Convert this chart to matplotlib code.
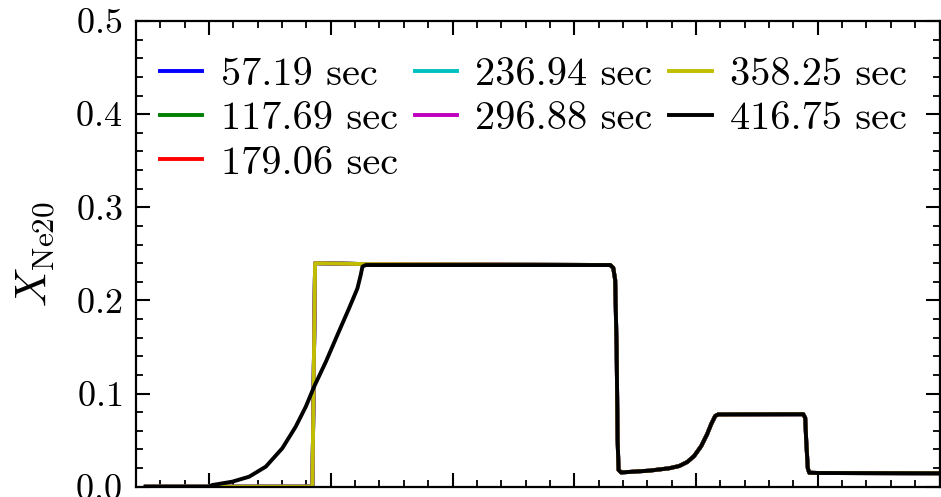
import numpy as np
import matplotlib
matplotlib.use("Agg")
import matplotlib.pyplot as plt
from matplotlib.ticker import MultipleLocator

plt.rcParams['font.family'] = 'cmr10'
plt.rcParams['mathtext.fontset'] = 'cm'
plt.rcParams['axes.formatter.use_mathtext'] = True

# tiempos de cada perfil
labels = ['57.19 sec', '117.69 sec', '179.06 sec', '236.94 sec',
          '296.88 sec', '358.25 sec', '416.75 sec']
colors = ['b', 'g', 'r', 'c', 'm', 'y', 'k']

# parte derecha comun a todos los perfiles
x_right = [4.295, 4.320, 4.336, 4.348, 4.356, 4.364, 4.385, 4.615, 4.78,
           4.862, 4.928, 4.985, 5.043, 5.092, 5.125, 5.158, 5.183, 5.881,
           5.897, 5.905, 5.918, 5.930, 6.012, 7.0]
y_right = [0.238, 0.235, 0.222, 0.147, 0.050, 0.018, 0.0153, 0.0172, 0.0198,
           0.0222, 0.0265, 0.033, 0.0437, 0.0566, 0.0673, 0.076, 0.0776,
           0.0778, 0.0738, 0.050, 0.020, 0.015, 0.0147, 0.0144]

# perfil escalonado (los primeros seis tiempos casi coinciden)
x_step = [0.48, 1.849, 1.871, 2.288] + x_right
y_step = [0.0, 0.0, 0.240, 0.239] + y_right

# ultimo perfil (rampa suave a la izquierda)
x_last = [0.48, 1.0, 1.027, 1.191, 1.329, 1.466, 1.602, 1.712, 1.795, 1.863,
          1.959, 2.068, 2.150, 2.219, 2.246, 2.260, 2.288] + x_right
y_last = [0.0, 0.0, 0.0018, 0.0054, 0.0107, 0.0215, 0.0413, 0.0645, 0.0860,
          0.1074, 0.134, 0.167, 0.1915, 0.213, 0.2274, 0.2363, 0.238] + y_right

fig = plt.figure(figsize=(9.41, 4.97), dpi=100)
ax = fig.add_axes([136/941, 10.3/497, (939.5-136)/941, (486.7-21)/497])

for i in range(len(labels)):
    if i < len(labels) - 1:
        ax.plot(x_step, y_step, color=colors[i], lw=2.8, label=labels[i])
    else:
        ax.plot(x_last, y_last, color=colors[i], lw=2.8, label=labels[i])

ax.set_xlim(0.4, 7.0)
ax.set_ylim(0.0, 0.5)
ax.xaxis.set_major_locator(MultipleLocator(1.0))
ax.xaxis.set_minor_locator(MultipleLocator(0.2))
ax.yaxis.set_major_locator(MultipleLocator(0.1))
ax.yaxis.set_minor_locator(MultipleLocator(0.02))
ax.tick_params(which='both', direction='in', top=True, right=True,
               labelbottom=False, labelsize=26)
ax.tick_params(which='major', length=10, width=1.5, pad=10)
ax.tick_params(which='minor', length=5, width=1.3)
for s in ax.spines.values():
    s.set_linewidth(1.6)

ax.set_ylabel(r'$X_{\rm Ne20}$', fontsize=32, labelpad=13)

ax.legend(loc='upper left', bbox_to_anchor=(0.0, 0.975), ncol=3,
          frameon=False, fontsize=29, handlelength=1.05, handletextpad=0.45,
          columnspacing=0.42, labelspacing=0.2, borderaxespad=0.2,
          borderpad=0.4)

fig.savefig('out.png', dpi=100)
